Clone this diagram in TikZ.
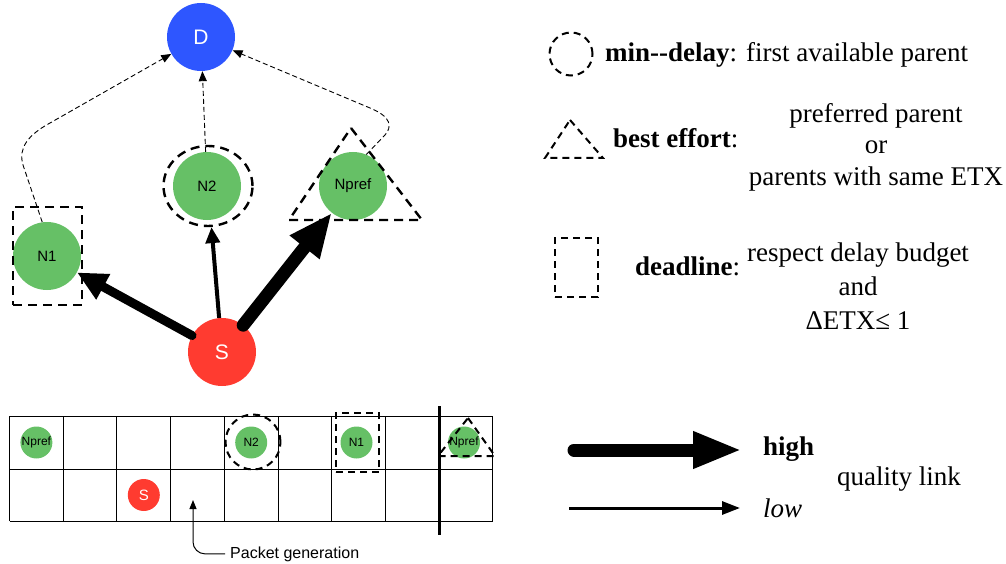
\documentclass[tikz,border=0pt]{standalone}
\usepackage{fontspec}
\setmainfont{Liberation Serif}
\setsansfont{Liberation Sans}
\usetikzlibrary{arrows.meta, positioning, shapes.geometric}

\definecolor{sinkBlue}{RGB}{46,86,255}
\definecolor{moteGreen}{RGB}{102,192,102}
\definecolor{srcRed}{RGB}{255,59,48}

\begin{document}
\begin{tikzpicture}[x=1pt, y=-1pt,
  mote/.style={circle, minimum size=68pt, inner sep=0pt, fill=moteGreen, font=\sffamily\fontsize{15}{15}\selectfont},
  tinymote/.style={circle, minimum size=32pt, inner sep=0pt, fill=moteGreen, font=\sffamily\fontsize{12}{12}\selectfont},
  endpoint/.style={mote, text=white, font=\sffamily\fontsize{21}{21}\selectfont},
  policy/.style={draw, line width=2.4pt, dash pattern=on 9pt off 6pt},
  tinypolicy/.style={draw, line width=2pt, dash pattern=on 7pt off 5pt},
  uplink/.style={-{Triangle[length=10pt,width=8pt]}, line width=0.9pt, dash pattern=on 5pt off 3pt},
  key/.style={font=\fontsize{27}{31.5}\selectfont, inner sep=0pt}
]
  \useasboundingbox (0,0) rectangle (1006,564);

  % topology
  \node[endpoint, fill=sinkBlue] (D) at (201,37) {D};
  \node[mote] (N1) at (47,256) {N1};
  \node[mote] (N2) at (207,186) {N2};
  \node[mote] (Npref) at (353,186) {Npref};
  \node[endpoint, fill=srcRed] (S) at (222,352) {S};

  % parent choice per policy
  \node[policy, ellipse, minimum width=89pt, minimum height=80pt] (N2ring) at (208,186) {};
  \node[policy, rectangle, minimum width=69pt, minimum height=98pt] (N1box) at (47.5,256) {};
  \draw[policy] (351,128) -- (422,220) -- (289,220) -- cycle;

  % links towards the sink
  \draw[uplink] (N1.98) -- (23,165) .. controls (18,148) and (28,135) .. (50,123) -- (D);
  \draw[uplink] (N2) -- (D);
  \draw[uplink] (Npref.67) -- (385,135) .. controls (392,127) and (392,117) .. (370,108) -- (D);

  % link quality from the source
  \draw[line width=9pt, line cap=round, -{Triangle[length=30pt,width=27pt]}] (S) -- (N1);
  \draw[line width=4pt, -{Triangle[length=16pt,width=14pt]}] (S) -- (N2ring);
  \draw[line width=13pt, line cap=round, -{Triangle[length=44pt,width=35pt]}] (S) -- (Npref);

  % slot frame
  \foreach \c in {0,...,9}
    \draw[line width=1pt] (9.5+53.7*\c,416) -- (9.5+53.7*\c,521);
  \foreach \r in {416,469,521}
    \draw[line width=1pt] (9.5,\r) -- (492.8,\r);
  \draw[line width=3pt] (439.1,406) -- (439.1,535);

  \node[tinymote] (slotNpref) at (36.4,442.5) {Npref};
  \node[tinymote] (slotN2) at (251.2,442.5) {N2};
  \node[tinymote] (slotN1) at (356.5,442.5) {N1};
  \node[tinymote] (slotNprefB) at (464,442.5) {Npref};
  \node[tinymote, fill=srcRed, text=white, font=\sffamily\fontsize{15}{15}\selectfont] (slotS) at (143.8,495) {S};

  \node[tinypolicy, circle, minimum size=55pt] (slotN2ring) at (253,442) {};
  \node[tinypolicy, rectangle, minimum width=43pt, minimum height=59pt] (slotN1box) at (357.5,442.5) {};
  \draw[tinypolicy] (468,418) -- (495,456) -- (438,456) -- cycle;

  \node[font=\sffamily\fontsize{16}{16}\selectfont, inner sep=0pt, anchor=base west] (pktgen) at (230,558) {Packet generation};
  \coordinate (gen) at (193,500);
  \draw[line width=1pt, rounded corners=12pt, -{Triangle[length=9pt,width=7pt]}] ([xshift=-5pt]pktgen.west) -| (gen);

  % legend: policies
  \node[policy, line width=2pt, dash pattern=on 7pt off 5pt, circle, minimum size=43pt] (keydelay) at (571,54) {};
  \node[key, anchor=base west] (delaytxt) at (605,62) {\textbf{min-{}-delay}: first available parent};

  \draw[policy, line width=2pt, dash pattern=on 7pt off 5pt] (570,120) -- (603,158) -- (545,158) -- cycle;
  \node[key, anchor=base west] (efforttxt) at (613,148) {\textbf{best effort}:};
  \node[key, align=center] (effortrule) at (876,147) {preferred parent\\or\\parents with same ETX};

  \node[policy, line width=2pt, dash pattern=on 7pt off 5pt, rectangle, minimum width=43pt, minimum height=59pt] (keydeadline) at (576.5,267.5) {};
  \node[key, anchor=base west] (deadlinetxt) at (635,275) {\textbf{deadline}:};
  \node[key, align=center, font=\fontsize{27}{34}\selectfont] (deadlinerule) at (858,286) {respect delay budget\\and\\ΔETX≤ 1};

  % legend: link quality
  \node[key, anchor=base west] (hightxt) at (763,455) {\textbf{high}};
  \node[key, anchor=base west] (lowtxt) at (763,517) {\textit{low}};
  \node[key, anchor=base west] (qualtxt) at (837,485) {quality link};
  \coordinate (hiA) at (574,450);
  \coordinate (loA) at (569,508);
  \draw[line width=13pt, line cap=round, -{Triangle[length=49pt,width=34pt]}] (hiA) -- ([xshift=-21pt]hightxt.west |- hiA);
  \draw[line width=3pt, -{Triangle[length=18pt,width=13pt]}] (loA) -- ([xshift=-23pt]lowtxt.west |- loA);
\end{tikzpicture}
\end{document}
